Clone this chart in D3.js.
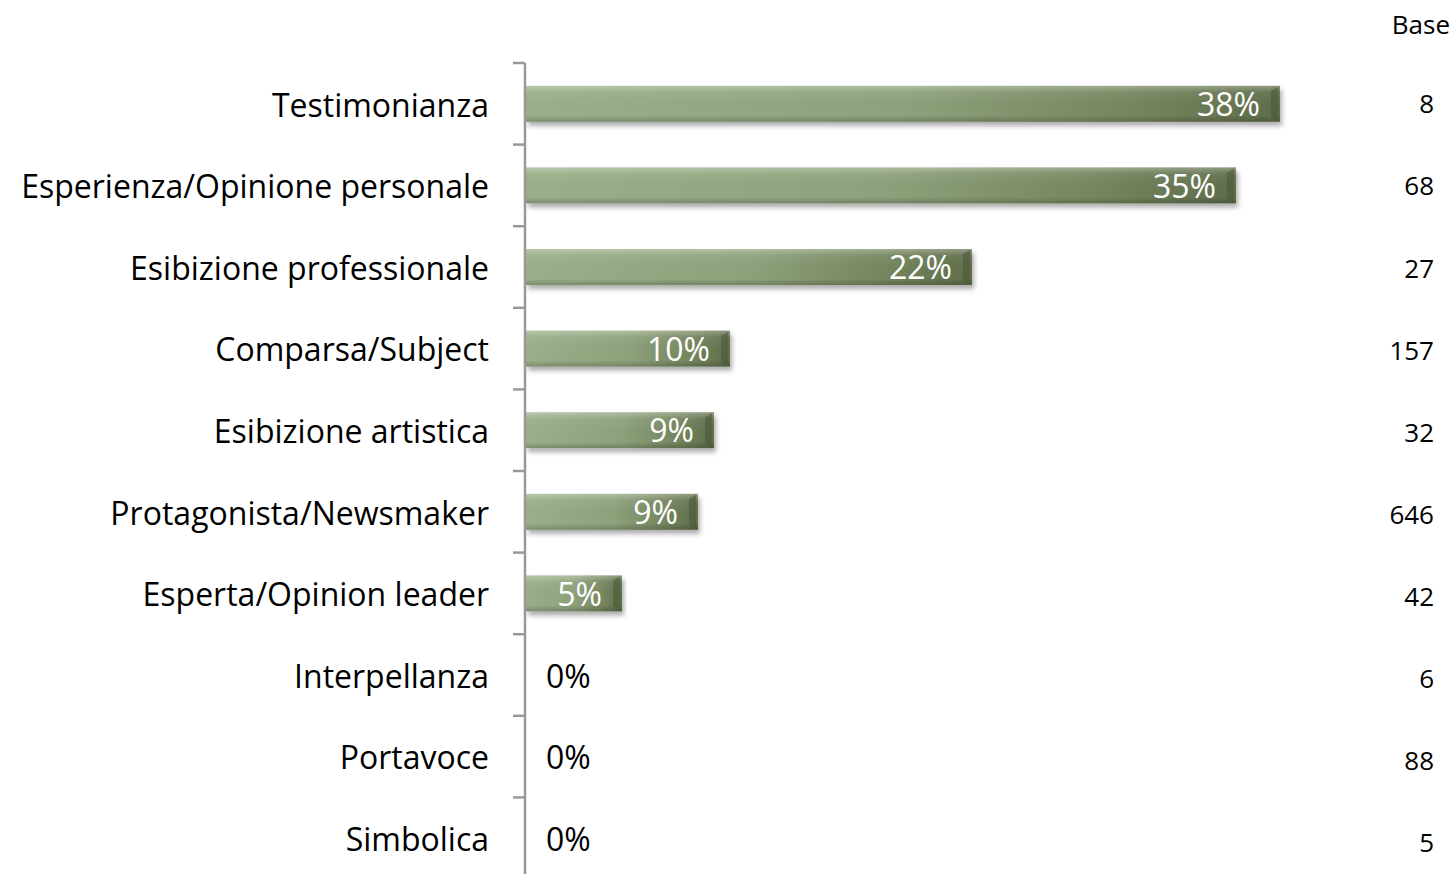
<!DOCTYPE html>
<html><head><meta charset="utf-8">
<script src="https://cdn.jsdelivr.net/npm/d3@7"></script>
<style>body{margin:0;background:#fff;} svg{display:block;} text{font-family:"Open Sans",sans-serif;}</style>
</head><body>
<svg id="c" width="1456" height="874"></svg>
<script>
const categories = ["Testimonianza","Esperienza/Opinione personale","Esibizione professionale","Comparsa/Subject","Esibizione artistica","Protagonista/Newsmaker","Esperta/Opinion leader","Interpellanza","Portavoce","Simbolica"];
const values = [37.7, 35.5, 22.3, 10.2, 9.4, 8.6, 4.8, 0, 0, 0];
const valueLabels = ["38%","35%","22%","10%","9%","9%","5%","0%","0%","0%"];
const baseValues = [8, 68, 27, 157, 32, 646, 42, 6, 88, 5];
const baseTitle = "Base";

const svg = d3.select("#c");
const x0 = 526;
const x = d3.scaleLinear().domain([0, 50]).range([x0, 1526]);
const y = d3.scaleBand().domain(categories).range([63, 879]).paddingInner(0.56).paddingOuter(0.28);
const yb = d3.scaleBand().domain(categories).range([63, 879]);

const defs = svg.append("defs");
const g1 = defs.append("linearGradient").attr("id","gr").attr("x1","0").attr("x2","1").attr("y1","0").attr("y2","0");
g1.append("stop").attr("offset","0").attr("stop-color","#9bb08a");
g1.append("stop").attr("offset","0.5").attr("stop-color","#8ea27c");
g1.append("stop").attr("offset","0.8").attr("stop-color","#76875f");
g1.append("stop").attr("offset","1").attr("stop-color","#5f6e4b");
const g2 = defs.append("linearGradient").attr("id","hl").attr("x1","0").attr("x2","0").attr("y1","0").attr("y2","1");
g2.append("stop").attr("offset","0").attr("stop-color","#fff").attr("stop-opacity",0.3);
g2.append("stop").attr("offset","0.18").attr("stop-color","#fff").attr("stop-opacity",0.06);
g2.append("stop").attr("offset","0.82").attr("stop-color","#000").attr("stop-opacity",0.0);
g2.append("stop").attr("offset","1").attr("stop-color","#000").attr("stop-opacity",0.2);
const f = defs.append("filter").attr("id","sh").attr("x","-5%").attr("y","-30%").attr("width","110%").attr("height","180%");
f.append("feDropShadow").attr("dx",2).attr("dy",4).attr("stdDeviation",2.5).attr("flood-color","#000").attr("flood-opacity",0.33);

const bars = svg.append("g").selectAll("g").data(categories.map((c,i)=>({c,v:values[i],l:valueLabels[i],b:baseValues[i]}))).join("g");
const nz = bars.filter(d=>d.v>0);
nz.append("rect").attr("x",x0).attr("y",d=>y(d.c)).attr("width",d=>x(d.v)-x0).attr("height",y.bandwidth())
  .attr("fill","url(#gr)").attr("filter","url(#sh)");
nz.append("rect").attr("x",x0).attr("y",d=>y(d.c)).attr("width",d=>x(d.v)-x0).attr("height",y.bandwidth())
  .attr("fill","url(#hl)");
nz.append("path").attr("d",d=>{const xe=x(d.v), yt=y(d.c), h=y.bandwidth();
    return `M${xe-9},${yt+5}L${xe-2},${yt+1}L${xe-2},${yt+h-1}L${xe-9},${yt+h-5}Z`;})
  .attr("fill","#4a5838").attr("opacity",0.55);
nz.append("text").attr("x",d=>x(d.v)-20).attr("y",d=>y(d.c)+y.bandwidth()/2).attr("dy","0.38em")
  .attr("text-anchor","end").attr("fill","#fff").attr("font-size",32).text(d=>d.l);
bars.filter(d=>d.v===0).append("text").attr("x",546).attr("y",d=>yb(d.c)+yb.bandwidth()/2).attr("dy","0.4em")
  .attr("fill","#000").attr("font-size",32).text(d=>d.l);

// axis
const ax = svg.append("g").attr("transform",`translate(${x0-1},0)`)
  .call(d3.axisLeft(yb).tickValues([]).tickSize(0));
ax.select(".domain").attr("stroke","#999").attr("stroke-width",2.5).attr("d","M0,63V879");
const tickYs = d3.range(categories.length+1).map(i=>63 + i*yb.step());
ax.selectAll("line.tk").data(tickYs).join("line").attr("class","tk").attr("x1",-12).attr("x2",0)
  .attr("y1",d=>d).attr("y2",d=>d).attr("stroke","#999").attr("stroke-width",2.5);

// category labels
svg.append("g").selectAll("text").data(categories).join("text")
  .attr("x",489).attr("y",d=>yb(d)+yb.bandwidth()/2).attr("dy","0.4em").attr("text-anchor","end")
  .attr("font-size",32).attr("fill","#000").text(d=>d);

// base column
const ybase = d3.scalePoint().domain(categories).range([104, 843]);
svg.append("text").attr("x",1450).attr("y",25).attr("dy","0.36em").attr("text-anchor","end").attr("font-size",26).text(baseTitle);
svg.append("g").selectAll("text").data(categories.map((c,i)=>({c,b:baseValues[i]}))).join("text")
  .attr("x",1434).attr("y",d=>ybase(d.c)).attr("dy","0.36em").attr("text-anchor","end").attr("font-size",26).text(d=>d.b);
</script>
</body></html>
